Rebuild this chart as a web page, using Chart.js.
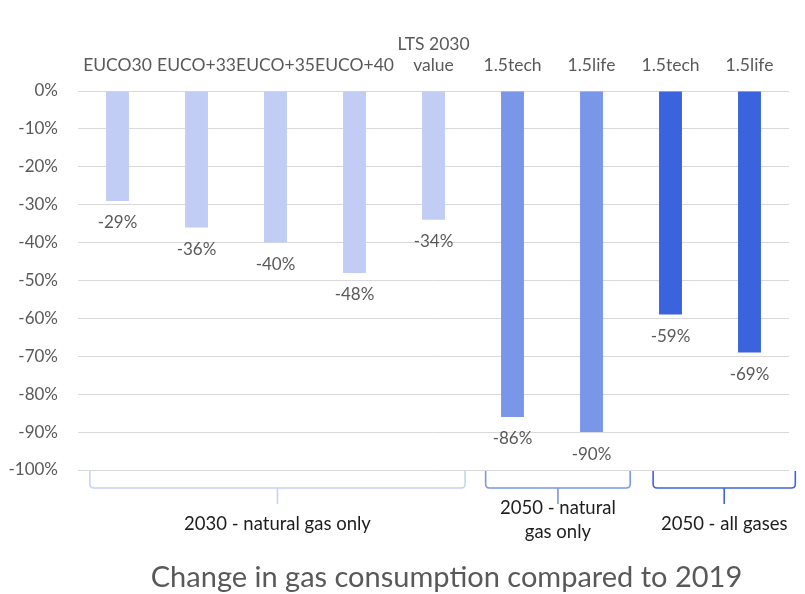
<!DOCTYPE html>
<html><head><meta charset="utf-8">
<script src="https://cdn.jsdelivr.net/npm/chart.js@4/dist/chart.umd.min.js"></script>
<style>html,body{margin:0;padding:0;background:#fff}#wrap{width:805px;height:594px}</style>
</head><body><div id="wrap"><canvas id="c" width="805" height="594"></canvas></div>
<script>
const categories = [['EUCO30'], ['EUCO+33'], ['EUCO+35'], ['EUCO+40'], ['LTS 2030', 'value'], ['1.5tech'], ['1.5life'], ['1.5tech'], ['1.5life']];
const values = [-29, -36, -40, -48, -34, -86, -90, -59, -69];
const barColors = ['#c1cdf4', '#c1cdf4', '#c1cdf4', '#c1cdf4', '#c1cdf4', '#7a96e8', '#7a96e8', '#3b63dd', '#3b63dd'];
const groupLabels = [['2030 - natural gas only'], ['2050 - natural', 'gas only'], ['2050 - all gases']];
const groupFrom = [0, 5, 7];
const groupTo = [4, 6, 8];
const groupColors = ['#c6d2f6', '#7a96e8', '#3b63dd'];
const yTicks = [0, -10, -20, -30, -40, -50, -60, -70, -80, -90, -100];
const titleText = 'Change in gas consumption compared to 2019';

const FONT = 'Lato, "Open Sans", sans-serif';

const extras = {
  id: 'extras',
  afterDatasetsDraw(chart) {
    const ctx = chart.ctx;
    const meta = chart.getDatasetMeta(0);
    ctx.save();
    ctx.font = '17px ' + FONT;
    ctx.fillStyle = '#595959';
    ctx.textAlign = 'center';
    ctx.textBaseline = 'middle';
    meta.data.forEach((bar, i) => {
      ctx.fillText(values[i] + '%', bar.x, bar.y + 22);
    });
    ctx.restore();
  },
  afterDraw(chart) {
    const ctx = chart.ctx;
    const xs = chart.scales.x;
    const area = chart.chartArea;
    const cw = xs.getPixelForValue(1) - xs.getPixelForValue(0);
    const leftOff = [-0.35, -0.34, -0.22];
    const rightOff = [0.40, 0.49, 0.58];
    ctx.save();
    groupLabels.forEach((lab, g) => {
      const x1 = xs.getPixelForValue(groupFrom[g]) + leftOff[g] * cw;
      const x2 = xs.getPixelForValue(groupTo[g]) + rightOff[g] * cw;
      const xc = (x1 + x2) / 2;
      const yTop = area.bottom + 1;
      const yMid = area.bottom + 18;
      const yTip = area.bottom + 34;
      const r = 4;
      ctx.strokeStyle = groupColors[g];
      ctx.lineWidth = 1.6;
      ctx.beginPath();
      ctx.moveTo(x1, yTop);
      ctx.lineTo(x1, yMid - r);
      ctx.quadraticCurveTo(x1, yMid, x1 + r, yMid);
      ctx.lineTo(x2 - r, yMid);
      ctx.quadraticCurveTo(x2, yMid, x2, yMid - r);
      ctx.lineTo(x2, yTop);
      ctx.moveTo(xc, yMid);
      ctx.lineTo(xc, yTip);
      ctx.stroke();
      ctx.font = '18.5px ' + FONT;
      ctx.fillStyle = '#1e1e1e';
      ctx.textAlign = 'center';
      ctx.textBaseline = 'middle';
      if (lab.length === 1) {
        ctx.fillText(lab[0], xc, area.bottom + 54);
      } else {
        lab.forEach((t, k) => ctx.fillText(t, xc, area.bottom + 38 + k * 24));
      }
    });
    // chart title, centred under the plot as in the reference
    ctx.font = '29px ' + FONT;
    ctx.fillStyle = '#595959';
    ctx.textAlign = 'center';
    ctx.textBaseline = 'middle';
    ctx.fillText(titleText, (area.left + chart.width) / 2 + 5, area.bottom + 108);
    ctx.restore();
  }
};

function build() {
  new Chart(document.getElementById('c'), {
    type: 'bar',
    data: {
      labels: categories,
      datasets: [{
        data: values,
        backgroundColor: barColors,
        borderWidth: 0,
        categoryPercentage: 1.0,
        barPercentage: 0.29
      }]
    },
    options: {
      responsive: false,
      animation: false,
      layout: { padding: { left: 0, right: 16, top: 0, bottom: 124 } },
      plugins: {
        legend: { display: false },
        tooltip: { enabled: false },
        title: { display: false }
      },
      scales: {
        x: {
          position: 'top',
          grid: { display: false, drawTicks: false },
          border: { display: false },
          ticks: {
            color: '#595959',
            font: { family: FONT, size: 17.5 },
            padding: 15,
            maxRotation: 0,
            autoSkip: false
          },
          afterFit(s) { s.height = 91; }
        },
        y: {
          min: -100,
          max: 0,
          grid: { color: '#d9d9d9', drawTicks: false, lineWidth: 1 },
          border: { display: false },
          afterBuildTicks(s) { s.ticks = yTicks.map(v => ({ value: v })); },
          ticks: {
            color: '#595959',
            font: { family: FONT, size: 17 },
            padding: 20,
            callback: v => v + '%'
          },
          afterFit(s) { s.width = 78; }
        }
      }
    },
    plugins: [extras]
  });
}

if (document.fonts && document.fonts.load) {
  Promise.all([document.fonts.load('17px Lato'), document.fonts.load('29px Lato')]).then(build, build);
} else { build(); }
</script>
</body></html>
